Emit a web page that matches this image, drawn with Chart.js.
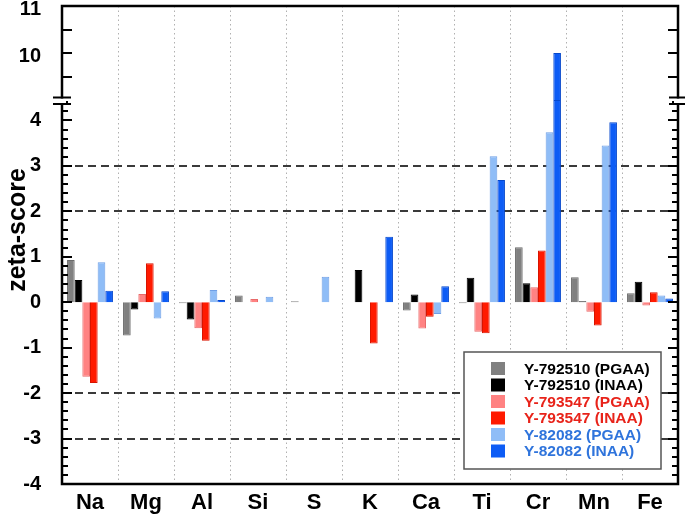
<!DOCTYPE html>
<html lang="en">
<head>
  <meta charset="UTF-8">
  <title>zeta-score</title>
  <script src="https://cdn.jsdelivr.net/npm/chart.js"></script>
  <style>
    body { margin: 0; background: #fff; }
    canvas { display: block; }
  </style>
</head>
<body>
  <canvas id="chart" width="685" height="515"></canvas>
  <script>
    // data
    const elements = ['Na', 'Mg', 'Al', 'Si', 'S', 'K', 'Ca', 'Ti', 'Cr', 'Mn', 'Fe'];
    const seriesNames = ['Y-792510 (PGAA)', 'Y-792510 (INAA)', 'Y-793547 (PGAA)', 'Y-793547 (INAA)', 'Y-82082 (PGAA)', 'Y-82082 (INAA)'];
    const y792510_PGAA = [0.93, -0.73, -0.02, 0.15, 0.02, 0, -0.18, -0.02, 1.21, 0.55, 0.20];
    const y792510_INAA = [0.49, -0.16, -0.38, 0, 0, 0.71, 0.17, 0.54, 0.42, 0.02, 0.45];
    const y793547_PGAA = [-1.64, 0.18, -0.57, 0.07, 0, 0, -0.58, -0.65, 0.33, -0.21, -0.07];
    const y793547_INAA = [-1.78, 0.86, -0.85, 0, 0, -0.91, -0.32, -0.68, 1.14, -0.51, 0.22];
    const y82082_PGAA = [0.88, -0.36, 0.27, 0.12, 0.56, 0, -0.26, 3.21, 3.74, 3.45, 0.15];
    const y82082_INAA = [0.25, 0.24, 0.05, 0, 0, 1.44, 0.35, 2.69, 10.0, 3.96, 0.08];
    const lowTicks = [-4, -3, -2, -1, 0, 1, 2, 3, 4];
    const topTicks = [10, 11];
    const dashedAt = [3, 2, -2, -3];

    // broken axis ranges
    const LOW_MIN = -4, LOW_MAX = 4.45, TOP_MIN = 9.0, TOP_MAX = 11;

    const fills = ['#808080', '#000000', '#ff8282', '#ff1a00', '#8fbdf7', '#0d5cf5'];
    const edges = ['#6a6a6a', '#000000', '#e86a6a', '#d81400', '#6f9fe6', '#0648cc'];
    const textColors = ['#000000', '#000000', '#e8231a', '#e8231a', '#2f74dc', '#2f74dc'];
    const FONT = 'Arial, "Liberation Sans", sans-serif';

    const allSeries = [y792510_PGAA, y792510_INAA, y793547_PGAA, y793547_INAA, y82082_PGAA, y82082_INAA];
    const datasets = [];
    allSeries.forEach((vals, i) => {
      datasets.push({ label: seriesNames[i], data: vals.map(v => Math.min(v, LOW_MAX)), yAxisID: 'y', stack: 's' + i,
        backgroundColor: fills[i], borderColor: edges[i], borderWidth: 1 });
    });
    allSeries.forEach((vals, i) => {
      datasets.push({ label: seriesNames[i] + ' top', data: vals.map(v => v > TOP_MIN ? [TOP_MIN, v] : null), yAxisID: 'yTop', stack: 's' + i,
        backgroundColor: fills[i], borderColor: edges[i], borderWidth: 1, borderSkipped: 'bottom' });
    });

    const noPad = s => { s.paddingTop = 0; s.paddingBottom = 0; s.paddingLeft = 0; s.paddingRight = 0; };

    const decor = {
      id: 'decor',
      beforeDatasetsDraw(chart) {
        const { ctx, chartArea: a, scales } = chart;
        const x = scales.x, y = scales.y;
        ctx.save();
        // dotted separators between elements
        ctx.strokeStyle = '#b0b0b0'; ctx.lineWidth = 1; ctx.setLineDash([1.5, 3]);
        for (let i = 1; i < elements.length; i++) {
          const px = Math.round((x.getPixelForValue(i - 1) + x.getPixelForValue(i)) / 2) + 0.5;
          ctx.beginPath(); ctx.moveTo(px, a.top); ctx.lineTo(px, a.bottom); ctx.stroke();
        }
        // dashed limits
        ctx.strokeStyle = '#3a3a3a'; ctx.lineWidth = 2; ctx.setLineDash([8, 5]);
        dashedAt.forEach(v => {
          const py = Math.round(y.getPixelForValue(v));
          ctx.beginPath(); ctx.moveTo(a.left, py); ctx.lineTo(a.right, py); ctx.stroke();
        });
        ctx.restore();
      },
      afterDatasetsDraw(chart) {
        const { ctx, chartArea: a, scales } = chart;
        const y = scales.y, yt = scales.yTop;
        ctx.save();
        // frame
        ctx.strokeStyle = '#000'; ctx.lineWidth = 2.5; ctx.setLineDash([]);
        ctx.strokeRect(a.left, a.top, a.right - a.left, a.bottom - a.top);
        // tick marks on both sides
        ctx.lineWidth = 2;
        const tick = (py, len) => {
          ctx.beginPath();
          ctx.moveTo(a.left, py); ctx.lineTo(a.left + len, py);
          ctx.moveTo(a.right, py); ctx.lineTo(a.right - len, py);
          ctx.stroke();
        };
        for (let k = 0; LOW_MIN + k * 0.2 <= LOW_MAX + 1e-9; k++) {
          const v = LOW_MIN + k * 0.2;
          tick(Math.round(y.getPixelForValue(v)), k % 5 === 0 ? 10 : 6);
        }
        for (let v = 9.5; v <= TOP_MAX; v += 0.5) tick(Math.round(yt.getPixelForValue(v)), 10);
        // axis break marks
        const yb = y.top;
        [a.left, a.right].forEach(ax => {
          ctx.fillStyle = '#fff';
          ctx.fillRect(ax - 4, yb - 1.5, 8, 4.5);
          ctx.strokeStyle = '#000'; ctx.lineWidth = 2;
          ctx.beginPath();
          ctx.moveTo(ax - 9, yb - 2.5); ctx.lineTo(ax + 9, yb - 2.5);
          ctx.moveTo(ax - 9, yb + 4); ctx.lineTo(ax + 9, yb + 4);
          ctx.stroke();
        });
        // axis title
        ctx.fillStyle = '#000';
        ctx.font = 'bold 25px ' + FONT;
        ctx.textAlign = 'center'; ctx.textBaseline = 'middle';
        ctx.translate(18, 230); ctx.rotate(-Math.PI / 2);
        ctx.fillText('zeta-score', 0, 0);
        ctx.restore();
        // legend box
        ctx.save();
        ctx.fillStyle = '#fff'; ctx.fillRect(464, 352, 197, 117);
        ctx.strokeStyle = '#555'; ctx.lineWidth = 1.5; ctx.strokeRect(464, 352, 197, 117);
        ctx.font = 'bold 15.5px ' + FONT; ctx.textAlign = 'left'; ctx.textBaseline = 'middle';
        seriesNames.forEach((name, i) => {
          const cy = 368.5 + i * 16.5;
          ctx.fillStyle = fills[i]; ctx.fillRect(491, cy - 6.5, 14, 13);
          ctx.fillStyle = textColors[i]; ctx.fillText(name, 524, cy + 1);
        });
        ctx.restore();
      }
    };

    const tickFont = { family: FONT, size: 20, weight: 'bold' };
    new Chart(document.getElementById('chart'), {
      type: 'bar',
      data: { labels: elements, datasets },
      options: {
        responsive: false,
        animation: false,
        layout: { padding: { top: 6, right: 7, left: 0, bottom: 0 } },
        datasets: { bar: { categoryPercentage: 0.82, barPercentage: 1.0 } },
        plugins: { legend: { display: false }, tooltip: { enabled: false } },
        scales: {
          x: {
            offset: true,
            grid: { display: false }, border: { display: false },
            ticks: { color: '#000', font: { family: FONT, size: 22, weight: 'bold' }, padding: -2, autoSkip: false, maxRotation: 0 },
            afterFit: s => { s.height = 31; noPad(s); }
          },
          y: {
            type: 'linear', position: 'left', stack: 'v', stackWeight: 384, stacked: false,
            min: LOW_MIN, max: LOW_MAX,
            grid: { display: false }, border: { display: false },
            ticks: { color: '#000', font: tickFont, padding: 13, autoSkip: false },
            afterBuildTicks: s => { s.ticks = lowTicks.map(v => ({ value: v })); },
            afterFit: s => { s.width = 62; noPad(s); }
          },
          yTop: {
            type: 'linear', position: 'left', stack: 'v', stackWeight: 94, stacked: false,
            min: TOP_MIN, max: TOP_MAX,
            grid: { display: false }, border: { display: false },
            ticks: { color: '#000', font: tickFont, padding: 13, autoSkip: false, labelOffset: 3 },
            afterBuildTicks: s => { s.ticks = topTicks.map(v => ({ value: v })); },
            afterFit: s => { s.width = 62; noPad(s); }
          }
        }
      },
      plugins: [decor]
    });
  </script>
</body>
</html>
